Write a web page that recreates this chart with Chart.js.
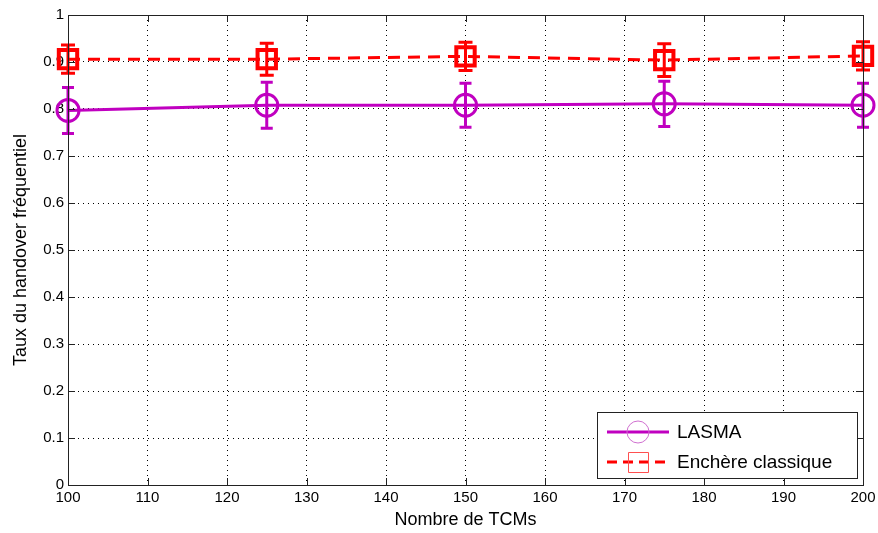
<!DOCTYPE html>
<html>
<head>
<meta charset="utf-8">
<script src="https://cdn.jsdelivr.net/npm/chart.js@4.4.0/dist/chart.umd.min.js"></script>
<style>
  html, body { margin: 0; padding: 0; background: #fff; overflow: hidden; }
  #wrap { width: 880px; height: 535px; position: absolute; left: 0; top: -2px; }
</style>
</head>
<body>
<div id="wrap"><canvas id="chart"></canvas></div>
<script>
// values
const tcmCounts = [100, 125, 150, 175, 200];
const lasmaMean = [0.797, 0.808, 0.808, 0.811, 0.808];
const lasmaErr = [0.049, 0.049, 0.047, 0.048, 0.047];
const enchereMean = [0.906, 0.906, 0.912, 0.904, 0.913];
const enchereErr = [0.030, 0.034, 0.030, 0.035, 0.030];
const yTicks = [0, 0.1, 0.2, 0.3, 0.4, 0.5, 0.6, 0.7, 0.8, 0.9, 1];

const MAGENTA = '#c000c0';
const RED = '#ff0000';
const FONT = "'Liberation Sans', Arial, sans-serif";

function toPoints(xs, ys) {
    return xs.map((x, i) => ({ x: x, y: ys[i] }));
}

// error bars + box + legend, drawn over the scales
const matlabExtras = {
    id: 'matlabExtras',
    afterDatasetsDraw: function(chart) {
        const ctx = chart.ctx;
        const xs = chart.scales.x;
        const ys = chart.scales.y;
        const area = chart.chartArea;

        const bars = [
            { mean: enchereMean, err: enchereErr, color: RED, cap: 7 },
            { mean: lasmaMean, err: lasmaErr, color: MAGENTA, cap: 6 }
        ];
        ctx.save();
        bars.forEach(b => {
            ctx.strokeStyle = b.color;
            ctx.lineWidth = 3;
            tcmCounts.forEach((t, i) => {
                const px = xs.getPixelForValue(t);
                const top = ys.getPixelForValue(b.mean[i] + b.err[i]);
                const bot = ys.getPixelForValue(b.mean[i] - b.err[i]);
                ctx.beginPath();
                ctx.moveTo(px, top); ctx.lineTo(px, bot);
                ctx.moveTo(px - b.cap, top); ctx.lineTo(px + b.cap, top);
                ctx.moveTo(px - b.cap, bot); ctx.lineTo(px + b.cap, bot);
                ctx.stroke();
            });
        });

        // axes box
        ctx.strokeStyle = '#222';
        ctx.lineWidth = 1;
        ctx.strokeRect(area.left + 0.5, area.top + 0.5, area.right - area.left, area.bottom - area.top);

        // inward ticks
        ctx.beginPath();
        xs.ticks.forEach(tk => {
            const px = Math.round(xs.getPixelForValue(tk.value)) + 0.5;
            ctx.moveTo(px, area.bottom); ctx.lineTo(px, area.bottom - 7);
            ctx.moveTo(px, area.top); ctx.lineTo(px, area.top + 7);
        });
        ys.ticks.forEach(tk => {
            const py = Math.round(ys.getPixelForValue(tk.value)) + 0.5;
            ctx.moveTo(area.left, py); ctx.lineTo(area.left + 7, py);
            ctx.moveTo(area.right, py); ctx.lineTo(area.right - 7, py);
        });
        ctx.stroke();

        // legend, anchored to the bottom-right of the plot
        const lw = 260, lh = 66;
        const lx = area.right - 6 - lw, ly = area.bottom - 7 - lh;
        ctx.fillStyle = '#fff';
        ctx.fillRect(lx, ly, lw, lh);
        ctx.strokeStyle = '#222';
        ctx.strokeRect(lx + 0.5, ly + 0.5, lw, lh);

        const entries = [
            { label: 'LASMA', color: MAGENTA, dash: [], marker: 'circle', y: ly + 20 },
            { label: 'Enchère classique', color: RED, dash: [10, 6], marker: 'square', y: ly + 50 }
        ];
        entries.forEach(e => {
            ctx.strokeStyle = e.color;
            ctx.lineWidth = 3;
            ctx.setLineDash(e.dash);
            ctx.beginPath();
            ctx.moveTo(lx + 10, e.y); ctx.lineTo(lx + 72, e.y);
            ctx.stroke();
            ctx.setLineDash([]);
            ctx.lineWidth = 1;
            ctx.strokeStyle = e.color === MAGENTA ? '#d070d0' : '#ff5050';
            ctx.beginPath();
            if (e.marker === 'circle') {
                ctx.arc(lx + 41, e.y, 11, 0, Math.PI * 2);
            } else {
                ctx.rect(lx + 31.5, e.y - 9.5, 20, 20);
            }
            ctx.stroke();
            ctx.fillStyle = '#000';
            ctx.font = '19px ' + FONT;
            ctx.textBaseline = 'middle';
            ctx.textAlign = 'left';
            ctx.fillText(e.label, lx + 80, e.y + 1);
        });
        ctx.restore();
    }
};

new Chart(document.getElementById('chart').getContext('2d'), {
    type: 'line',
    data: {
        datasets: [
            {
                label: 'LASMA',
                data: toPoints(tcmCounts, lasmaMean),
                borderColor: MAGENTA,
                borderWidth: 3,
                pointStyle: 'circle',
                pointRadius: 11,
                pointBorderWidth: 3,
                pointBorderColor: MAGENTA,
                pointBackgroundColor: 'rgba(0,0,0,0)',
                clip: false,
                tension: 0
            },
            {
                label: 'Enchère classique',
                data: toPoints(tcmCounts, enchereMean),
                borderColor: RED,
                borderWidth: 3,
                borderDash: [12, 8],
                pointStyle: 'rect',
                pointRadius: 13,
                pointBorderWidth: 4,
                pointBorderColor: RED,
                pointBackgroundColor: 'rgba(0,0,0,0)',
                clip: false,
                tension: 0
            }
        ]
    },
    options: {
        responsive: true,
        maintainAspectRatio: false,
        animation: false,
        layout: { padding: { left: 0, right: 13, top: 13, bottom: 0 } },
        plugins: {
            legend: { display: false },
            tooltip: { enabled: false }
        },
        scales: {
            x: {
                type: 'linear',
                min: 100,
                max: 200,
                afterFit: function(scale) { scale.height = 48; },
                ticks: {
                    stepSize: 10,
                    color: '#000',
                    padding: 4,
                    font: { family: FONT, size: 15 }
                },
                grid: {
                    color: '#000',
                    lineWidth: 1,
                    drawTicks: false
                },
                border: { display: false, dash: [1, 4] },
                title: {
                    display: true,
                    text: 'Nombre de TCMs',
                    color: '#000',
                    padding: { top: 4, bottom: 2 },
                    font: { family: FONT, size: 18 }
                }
            },
            y: {
                type: 'linear',
                min: 0,
                max: 1,
                afterFit: function(scale) { scale.width = 68; },
                afterBuildTicks: function(scale) {
                    scale.ticks = yTicks.map(v => ({ value: v }));
                },
                ticks: {
                    color: '#000',
                    padding: 4,
                    font: { family: FONT, size: 15 },
                    callback: function(v) { return String(Math.round(v * 10) / 10); }
                },
                grid: {
                    color: '#000',
                    lineWidth: 1,
                    drawTicks: false
                },
                border: { display: false, dash: [1, 4] },
                title: {
                    display: true,
                    text: 'Taux du handover fréquentiel',
                    color: '#000',
                    padding: { top: 10, bottom: 4 },
                    font: { family: FONT, size: 18 }
                }
            }
        }
    },
    plugins: [matlabExtras]
});
</script>
</body>
</html>
